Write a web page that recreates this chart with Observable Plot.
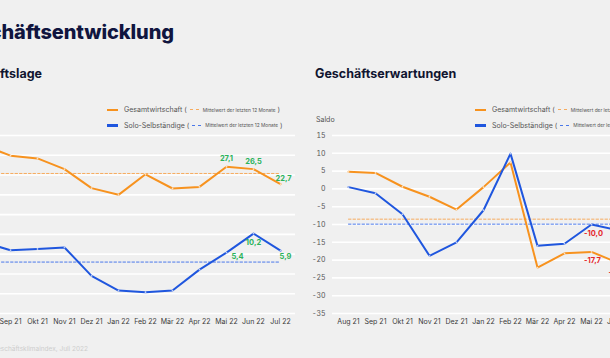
<!DOCTYPE html>
<html><head><meta charset="utf-8">
<script src="https://cdn.jsdelivr.net/npm/d3@7"></script>
<script src="https://cdn.jsdelivr.net/npm/@observablehq/plot@0.6"></script>
<style>
html,body{margin:0;padding:0;}
body{width:610px;height:358px;overflow:hidden;background:#f0f0f0;position:relative;font-family:Inter,"Noto Sans",sans-serif;}
.abs{position:absolute;white-space:nowrap;}
.title{font-size:20px;line-height:20px;font-weight:800;color:#10153f;letter-spacing:-0.1px;}
.sub{font-size:12.5px;line-height:14px;font-weight:700;color:#111530;}
.legend{font-size:7px;color:#555;}
.row{display:flex;align-items:center;height:15.5px;}
.sw{display:inline-block;width:11px;height:2.5px;margin-right:6px;}
.dash{display:inline-block;width:9px;height:0;border-top:1px dashed;margin:0 4px 0 3px;}
.small{font-size:4.8px;}
.saldo{font-size:7px;line-height:8px;color:#555;}
.cap{font-size:6.5px;line-height:8px;color:#cdcdcd;}
.chart{position:absolute;top:128px;width:365px;height:207px;}
.chart svg{max-width:none !important;}
</style></head>
<body>
<div class="abs title" style="right:436px;top:22px;">Geschäftsentwicklung</div>
<div class="abs sub" style="right:568px;top:67px;">Geschäftslage</div>
<div class="abs sub" style="left:315px;top:67px;">Geschäftserwartungen</div>
<div id="legL" class="abs legend" style="left:107px;top:102px;"></div>
<div id="legR" class="abs legend" style="left:475px;top:102px;"></div>
<div class="abs saldo" style="left:-49px;top:116px;">Saldo</div>
<div class="abs saldo" style="left:316px;top:116px;">Saldo</div>
<div class="abs cap" style="right:522px;top:345px;">Quelle: ifo Geschäftsklimaindex, Juli 2022</div>
<div id="left" class="chart" style="left:-70px;"></div>
<div id="right" class="chart" style="left:295px;"></div>
<script>
// ---- data ----
const months = ["Aug 21","Sep 21","Okt 21","Nov 21","Dez 21","Jan 22","Feb 22","Mär 22","Apr 22","Mai 22","Jun 22","Jul 22"];
const seriesNames = ["Gesamtwirtschaft","Solo-Selbständige"];
const meanLabel = "Mittelwert der letzten 12 Monate";
// Geschäftslage
const lageGesamt = [32.5, 29.9, 29.2, 26.5, 21.7, 20.0, 25.2, 21.6, 22.0, 27.1, 26.5, 22.7];
const lageSolo   = [8.0, 6.0, 6.3, 6.7, -0.5, -4.2, -4.6, -4.2, 1.1, 5.4, 10.2, 5.9];
const lageMittel = [25.4, 3.0];
const lageTicks  = [-10, -5, 0, 5, 10, 15, 20, 25, 30, 35];
// Geschäftserwartungen
const erwGesamt = [4.8, 4.5, 0.6, -2.2, -5.8, 0.5, 7.4, -22.1, -18.1, -17.7, -20.8, -30.0];
const erwSolo   = [0.5, -1.2, -7.1, -18.8, -15.0, -6.0, 9.9, -16.0, -15.4, -10.0, -11.6, -24.0];
const erwMittel = [-8.5, -9.9];
const erwTicks  = [-35, -30, -25, -20, -15, -10, -5, 0, 5, 10, 15];
const labelMonths = ["Mai 22","Jun 22","Jul 22"];

const COL = ["#f7921e", "#1f56de"];
const MEANCOL = ["#f6ab5e", "#4a78ea"];
const fmt = v => v.toFixed(1).replace(".", ",");

function legend(el){
  el.innerHTML = seriesNames.map((n,i)=>
    `<div class="row"><span class="sw" style="background:${COL[i]}"></span><span>${n} (</span><span class="dash" style="border-color:${MEANCOL[i]}"></span><span class="small">${meanLabel}</span><span>&nbsp;)</span></div>`
  ).join("");
}
legend(document.getElementById("legL"));
legend(document.getElementById("legR"));

function chart(el, gesamt, solo, mittel, ticks, offs){
  const series = [gesamt, solo];
  const marks = [
    Plot.ruleY(ticks, {stroke:"white", strokeWidth:1.6}),
    Plot.axisY(ticks, {tickSize:0, tickPadding:7, fill:"#555", fontSize:7, label:null, tickFormat:d=>String(d)}),
    Plot.axisX({tickSize:0, tickPadding:6, fill:"#3a3a3a", fontSize:7, label:null})
  ];
  series.forEach((vals,i)=>{
    marks.push(Plot.lineY(months, {x:m=>m, y:()=>mittel[i], stroke:MEANCOL[i], strokeWidth:1, strokeDasharray:"2.5,2"}));
  });
  series.forEach((vals,i)=>{
    const rows = months.map((m,j)=>({m, v:vals[j]}));
    marks.push(Plot.lineY(rows, {x:"m", y:"v", stroke:COL[i], strokeWidth:2, strokeLinejoin:"round"}));
    marks.push(Plot.dot(rows, {x:"m", y:"v", r:0.9, fill:"white", fillOpacity:0.7}));
  });
  series.forEach((vals,i)=>{
    labelMonths.forEach((m,k)=>{
      const v = vals[months.indexOf(m)];
      const o = offs[i][k];
      marks.push(Plot.text([{m, v}], {x:"m", y:"v", text:d=>fmt(d.v), dx:o[0], dy:o[1],
        fill: v >= 0 ? "#2bb35b" : "#e5252b", fontWeight:700, fontSize:7.5}));
    });
  });
  const svg = Plot.plot({
    width:365, height:207, marginLeft:37, marginRight:0, marginTop:7, marginBottom:22,
    style:{background:"transparent", fontFamily:"Inter, sans-serif", overflow:"visible", maxWidth:"none"},
    x:{type:"point", domain:months, padding:0.5, axis:null, label:null},
    y:{domain:[ticks[0], ticks[ticks.length-1]], axis:null, label:null},
    marks
  });
  el.appendChild(svg);
}
chart(document.getElementById("left"), lageGesamt, lageSolo, lageMittel, lageTicks,
  [[[0,-8],[0,-8],[3,-6]], [[11,4],[0,9],[5,6]]]);
chart(document.getElementById("right"), erwGesamt, erwSolo, erwMittel, erwTicks,
  [[[1,9],[0,10],[3,-6]], [[2,9],[0,9],[5,6]]]);
</script>
</body></html>
